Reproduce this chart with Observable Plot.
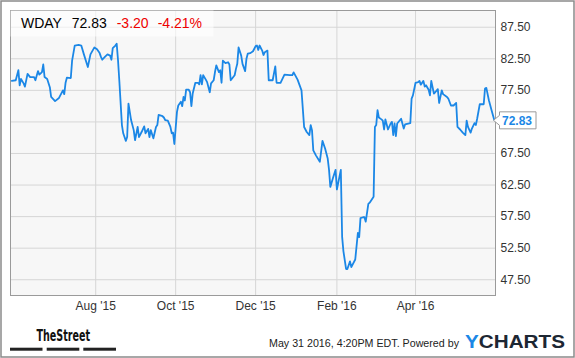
<!DOCTYPE html>
<html><head><meta charset="utf-8">
<script src="https://cdn.jsdelivr.net/npm/d3@7"></script>
<script src="https://cdn.jsdelivr.net/npm/@observablehq/plot@0.6"></script>
<style>html,body{margin:0;padding:0;background:#fff;} svg{display:block;}</style>
</head><body><div id="chart"></div>
<script>
const ticker = "WDAY";
const lastPrice = 72.83;
const change = "-3.20";
const changePct = "-4.21%";
const stamp = "May 31 2016, 4:20PM EDT. Powered by";
const brandLeft = "TheStreet";
const brandRightA = "Y";
const brandRightB = "CHARTS";

const dates = [
"2015-05-29","2015-06-01","2015-06-03","2015-06-04","2015-06-05","2015-06-07","2015-06-08","2015-06-10","2015-06-12","2015-06-15",
"2015-06-16","2015-06-18","2015-06-19","2015-06-21","2015-06-22","2015-06-23","2015-06-25","2015-06-27","2015-06-28","2015-07-01",
"2015-07-04","2015-07-06","2015-07-07","2015-07-08","2015-07-09","2015-07-10","2015-07-13","2015-07-14","2015-07-16","2015-07-19",
"2015-07-21","2015-07-23","2015-07-26","2015-07-28","2015-07-31","2015-08-02","2015-08-04","2015-08-05","2015-08-06","2015-08-08",
"2015-08-10","2015-08-12","2015-08-13","2015-08-14","2015-08-16","2015-08-17","2015-08-18","2015-08-19","2015-08-21","2015-08-22",
"2015-08-24","2015-08-25","2015-08-26","2015-08-28","2015-08-30","2015-08-31","2015-09-02","2015-09-03","2015-09-05","2015-09-07",
"2015-09-08","2015-09-10","2015-09-11","2015-09-12","2015-09-14","2015-09-16","2015-09-17","2015-09-18","2015-09-21","2015-09-22",
"2015-09-23","2015-09-25","2015-09-27","2015-09-28","2015-09-29","2015-09-30","2015-10-02","2015-10-03","2015-10-05","2015-10-06",
"2015-10-07","2015-10-08","2015-10-09","2015-10-11","2015-10-12","2015-10-13","2015-10-14","2015-10-16","2015-10-18","2015-10-19",
"2015-10-20","2015-10-21","2015-10-22","2015-10-24","2015-10-25","2015-10-27","2015-10-28","2015-10-30","2015-10-31","2015-11-01",
"2015-11-03","2015-11-04","2015-11-05","2015-11-06","2015-11-08","2015-11-10","2015-11-11","2015-11-12","2015-11-15","2015-11-16",
"2015-11-17","2015-11-18","2015-11-20","2015-11-21","2015-11-23","2015-11-24","2015-11-25","2015-11-27","2015-11-29","2015-12-01",
"2015-12-02","2015-12-03","2015-12-04","2015-12-06","2015-12-07","2015-12-08","2015-12-10","2015-12-11","2015-12-14","2015-12-16",
"2015-12-17","2015-12-20","2015-12-23","2015-12-27","2015-12-29","2015-12-30","2016-01-02","2016-01-05","2016-01-07","2016-01-09",
"2016-01-11","2016-01-12","2016-01-13","2016-01-14","2016-01-16","2016-01-19","2016-01-21","2016-01-23","2016-01-25","2016-01-26",
"2016-01-27","2016-01-29","2016-01-31","2016-02-01","2016-02-04","2016-02-05","2016-02-06","2016-02-08","2016-02-09","2016-02-11",
"2016-02-12","2016-02-15","2016-02-17","2016-02-18","2016-02-19","2016-02-21","2016-02-22","2016-02-23","2016-02-25","2016-02-26",
"2016-02-29","2016-03-01","2016-03-02","2016-03-03","2016-03-04","2016-03-06","2016-03-07","2016-03-08","2016-03-09","2016-03-11",
"2016-03-13","2016-03-14","2016-03-15","2016-03-16","2016-03-17","2016-03-18","2016-03-21","2016-03-23","2016-03-24","2016-03-28",
"2016-03-29","2016-03-30","2016-04-01","2016-04-03","2016-04-04","2016-04-05","2016-04-07","2016-04-08","2016-04-09","2016-04-11",
"2016-04-12","2016-04-13","2016-04-15","2016-04-16","2016-04-18","2016-04-19","2016-04-21","2016-04-22","2016-04-25","2016-04-26",
"2016-04-28","2016-04-30","2016-05-02","2016-05-03","2016-05-05","2016-05-07","2016-05-09","2016-05-10","2016-05-11","2016-05-13",
"2016-05-14","2016-05-16","2016-05-17","2016-05-18","2016-05-20","2016-05-22","2016-05-23","2016-05-24","2016-05-25","2016-05-27",
"2016-05-29","2016-05-31"
];
const prices = [
79.0,79.1,80.7,78.3,79.3,78.6,78.1,80.1,79.6,79.6,
79.1,80.55,80.0,80.4,81.6,79.6,79.3,78.0,76.45,75.8,
76.3,77.1,77.5,76.9,78.7,79.5,79.45,82.2,84.6,84.7,
84.6,83.2,81.2,83.2,84.3,84.0,83.4,82.8,82.35,82.8,
83.2,83.0,82.35,84.2,84.6,84.9,82.35,79.1,72.0,70.7,
69.5,70.1,75.4,72.8,71.2,69.6,71.7,70.1,70.9,71.8,
70.7,71.4,70.1,71.2,69.9,71.7,72.0,73.6,73.4,73.2,
72.8,72.7,71.7,70.7,70.8,69.0,74.1,75.1,75.7,75.0,
76.45,75.9,77.6,77.6,77.2,75.0,77.0,78.7,78.7,78.45,
79.9,78.45,79.9,79.2,78.8,77.2,78.6,79.1,80.4,81.45,
80.4,80.7,78.7,82.2,81.8,81.95,81.6,79.1,79.9,80.9,
81.7,84.3,83.0,81.7,80.55,82.5,83.3,83.4,83.7,84.5,
84.6,83.9,84.6,83.8,83.1,83.55,83.8,79.1,79.1,81.3,
78.7,78.7,80.0,79.9,79.9,80.35,79.2,77.5,71.7,70.9,
70.4,72.0,71.2,68.0,67.2,66.2,69.5,68.3,66.7,64.9,
62.2,63.6,64.9,61.8,64.9,54.3,52.0,49.2,49.2,50.4,
49.5,50.7,54.9,54.25,57.25,57.4,57.4,56.7,59.5,59.7,
60.65,71.7,72.0,74.35,73.2,72.9,72.7,71.3,72.9,71.3,
72.25,72.5,70.4,72.25,70.25,72.25,73.0,71.45,72.1,72.3,
76.2,76.7,78.7,78.8,79.0,78.4,79.0,78.1,78.3,77.6,
76.7,79.0,77.0,77.2,77.7,75.5,77.5,76.9,76.45,76.2,
75.1,75.1,75.5,71.7,71.3,70.8,70.4,72.7,71.7,70.8,
71.45,72.3,72.0,73.0,75.3,75.3,75.3,77.8,77.9,75.9,
74.35,72.83
];
const yTicks = [47.5, 52.5, 57.5, 62.5, 67.5, 72.5, 77.5, 82.5, 87.5];
const xTickDates = ["2015-08-01", "2015-10-01", "2015-12-01", "2016-02-01", "2016-04-01"];

const data = dates.map((d, i) => ({date: new Date(d), price: prices[i]}));
const xTicks = xTickDates.map(d => new Date(d));
const FONT = "'Liberation Sans', Arial, Helvetica, sans-serif";
const BLUE = "#1b87e6";

const chart = Plot.plot({
  width: 575, height: 358,
  marginLeft: 10, marginRight: 80, marginTop: 10, marginBottom: 63,
  style: {fontFamily: FONT, fontSize: "12px", background: "#fff", color: "#333", overflow: "visible"},
  x: {type: "utc", domain: [new Date("2015-05-28"), new Date("2016-06-01")]},
  y: {domain: [45.0, 90.15]},
  marks: [
    Plot.frame({fill: "#f7f7f7", stroke: null}),
    Plot.gridX(xTicks, {stroke: "#d6d6d6", strokeOpacity: 1, strokeWidth: 1}),
    Plot.gridY(yTicks, {stroke: "#d6d6d6", strokeOpacity: 1, strokeWidth: 1}),
    Plot.axisX(xTicks, {tickSize: 0, tickPadding: 6, tickFormat: d3.utcFormat("%b '%y"), label: null, fill: "#333"}),
    Plot.axisY(yTicks, {anchor: "right", tickSize: 0, tickPadding: 5, tickFormat: d3.format(".2f"), label: null, fill: "#333"}),
    Plot.line(data, {x: "date", y: "price", stroke: BLUE, strokeWidth: 1.8}),
    Plot.frame({stroke: "#9a9a9a"})
  ]
});
document.getElementById("chart").append(chart);

const svg = d3.select(chart);
const sy = chart.scale("y");
const g = svg.append("g").attr("text-anchor", "start");

// outer border
g.append("rect").attr("x", 1).attr("y", 1).attr("width", 573).attr("height", 356)
  .attr("fill", "none").attr("stroke", "#8a8a8a").attr("stroke-width", 1.5);

// title box
g.append("rect").attr("x", 10.5).attr("y", 10.5).attr("width", 203).attr("height", 26)
  .attr("fill", "#fff").attr("fill-opacity", 0.6);
const t = g.append("text").attr("y", 28.3).attr("font-family", FONT).attr("font-size", 14).attr("text-anchor", "start");
t.append("tspan").attr("x", 21).attr("fill", "#000").text(ticker);
t.append("tspan").attr("x", 71.7).attr("fill", "#000").text(lastPrice.toFixed(2));
t.append("tspan").attr("x", 116.7).attr("fill", "#ee0000").text(change);
t.append("tspan").attr("x", 157.7).attr("fill", "#ee0000").text(changePct);

// last price callout
const ly = sy.apply(lastPrice) + 1;
const bx = 499.5, bw = 36.5, bh = 17;
g.append("path")
  .attr("d", `M493.5,${ly} L${bx},${ly - 5} L${bx},${ly - bh/2} L${bx + bw},${ly - bh/2} L${bx + bw},${ly + bh/2} L${bx},${ly + bh/2} L${bx},${ly + 5} Z`)
  .attr("fill", "#fff").attr("stroke", "#9a9a9a").attr("stroke-width", 1);
g.append("text").attr("x", 502).attr("y", ly + 4.3).attr("font-family", FONT).attr("text-anchor", "start")
  .attr("font-size", 12).attr("font-weight", "bold").attr("fill", BLUE).text(lastPrice.toFixed(2));

// footer: TheStreet
g.append("text").attr("x", 36.5).attr("y", 340.7).attr("text-anchor", "start")
  .attr("font-family", "'Liberation Sans Narrow', 'DejaVu Sans Condensed', sans-serif")
  .attr("font-size", 15.5).attr("font-weight", "bold").attr("fill", "#111")
  .attr("textLength", 53.5).attr("lengthAdjust", "spacingAndGlyphs").text(brandLeft);
[[10, 32.5], [46.7, 32.6], [83.3, 32.7]].forEach(([x, w]) => {
  g.append("rect").attr("x", x).attr("y", 347.7).attr("width", w).attr("height", 3).attr("fill", "#222");
});

// footer: stamp
g.append("text").attr("x", 269).attr("y", 347).attr("text-anchor", "start").attr("font-family", FONT)
  .attr("font-size", 11).attr("fill", "#222")
  .attr("textLength", 190).attr("lengthAdjust", "spacingAndGlyphs").text(stamp);

// footer: YCHARTS
const yc = g.append("text").attr("x", 465).attr("y", 348.3).attr("font-family", FONT).attr("text-anchor", "start")
  .attr("font-size", 18.5).attr("font-weight", "bold").attr("textLength", 100).attr("lengthAdjust", "spacingAndGlyphs");
yc.append("tspan").attr("fill", BLUE).text(brandRightA);
yc.append("tspan").attr("fill", "#1d2733").text(brandRightB);
</script></body></html>
